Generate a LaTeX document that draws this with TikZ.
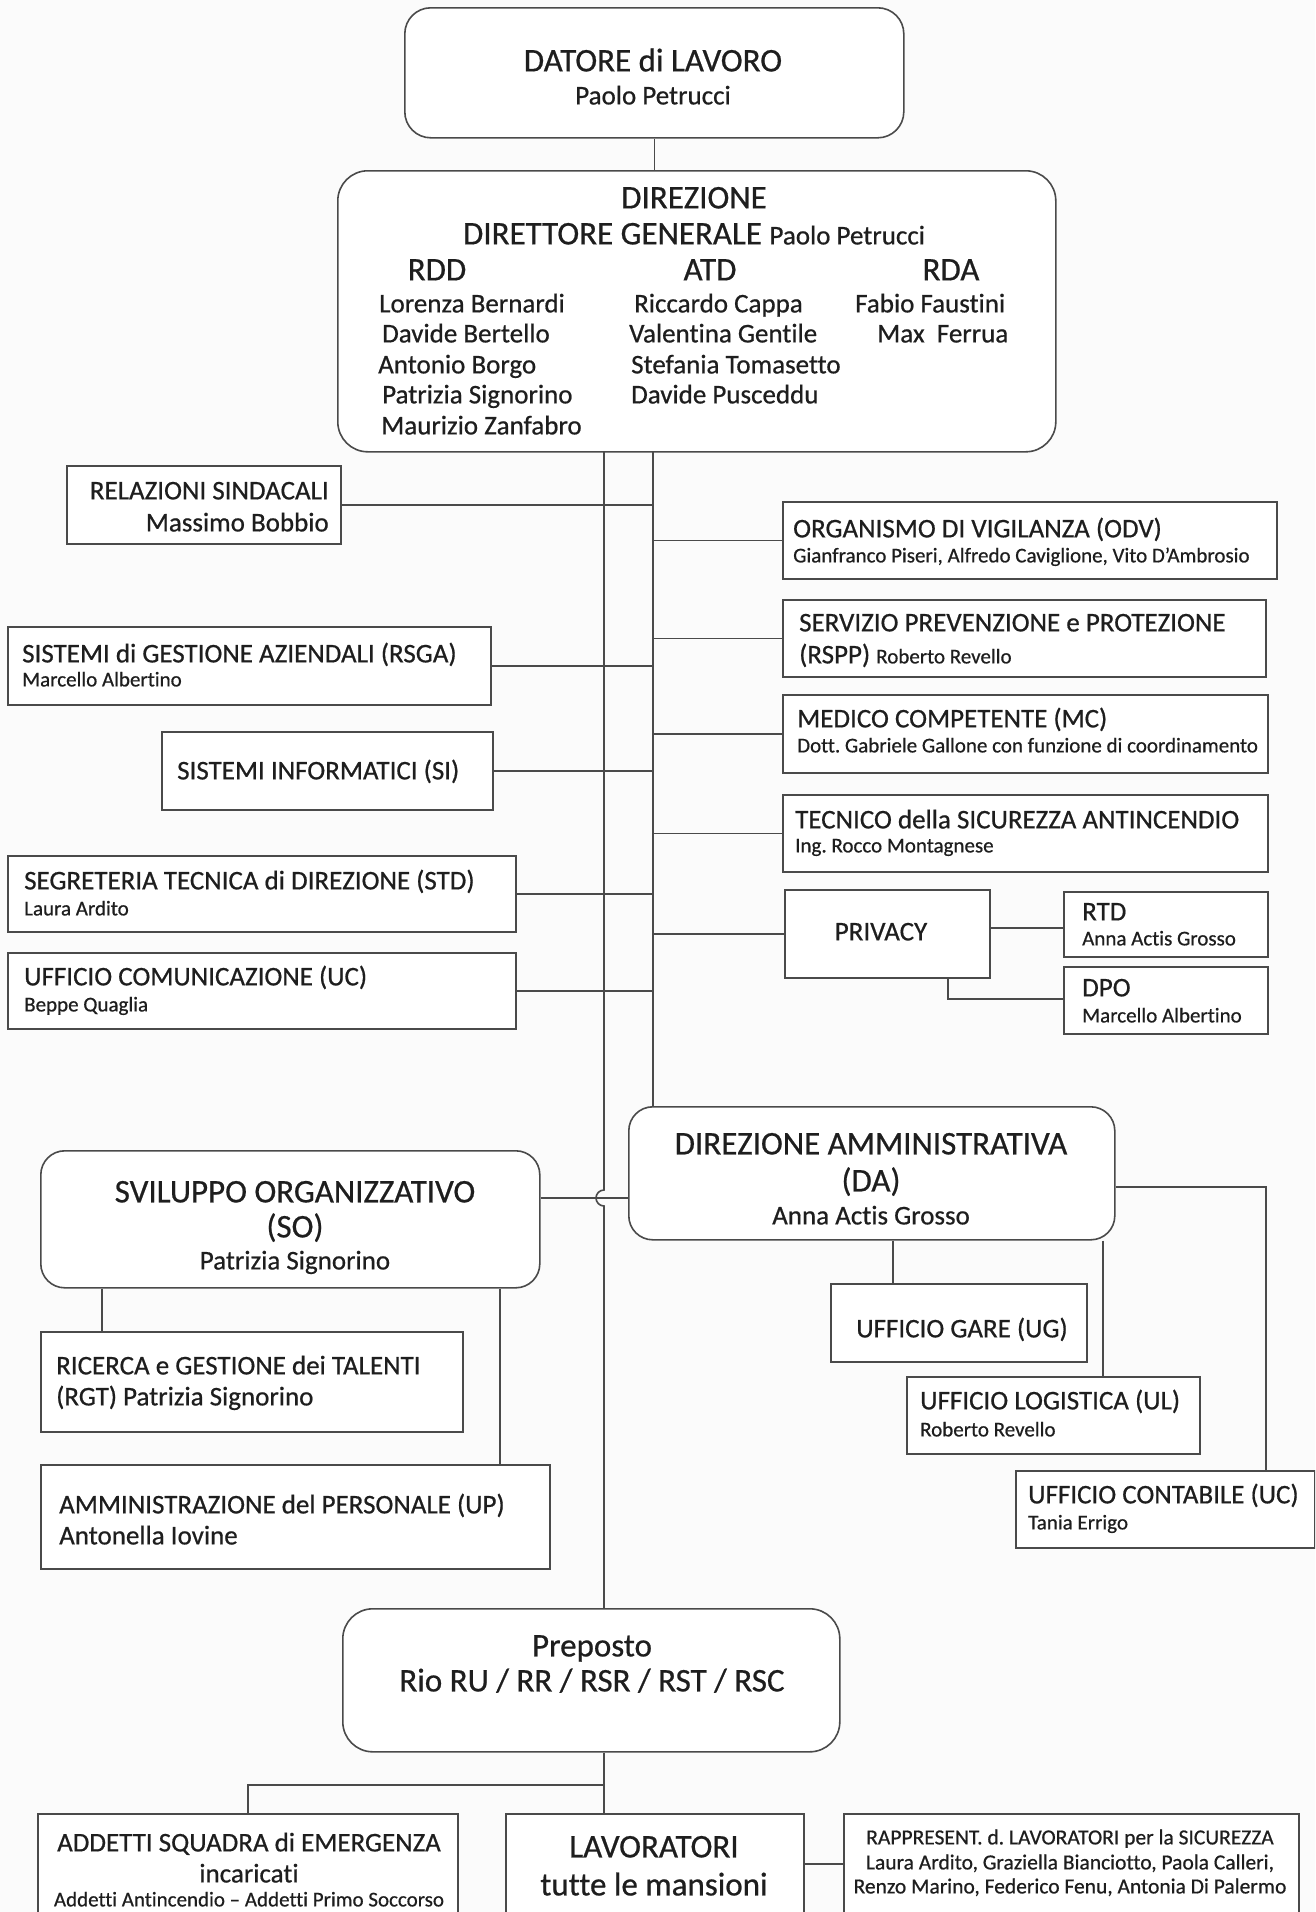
\documentclass[tikz,border=0pt]{standalone}
\usepackage{fontspec}
\setmainfont{Carlito}[Ligatures={NoCommon}, UprightFeatures={FakeBold=0.6}]
\definecolor{linec}{HTML}{4A4A4A}
\definecolor{txtc}{HTML}{1E1E1E}
\definecolor{bgc}{HTML}{FBFBFB}
\begin{document}
\frenchspacing
\begin{tikzpicture}[x=1pt,y=-1pt,
  box/.style={draw=linec, line width=1.6pt, inner sep=0pt, anchor=north west, fill=white},
  rbox/.style={box, rounded corners=26pt},
  ln/.style={draw=linec, line width=1.6pt},
  tx/.style={inner sep=0pt, text=txtc},
  B/.style={tx, font=\fontsize{33}{36}\selectfont, yshift=-8pt},
  M/.style={tx, font=\fontsize{27}{30}\selectfont, yshift=-7pt},
  S/.style={tx, font=\fontsize{21}{24}\selectfont, yshift=-5pt},
  lw/.style={anchor=mid west},
  le/.style={anchor=mid east},
  lc/.style={anchor=mid},
]
\useasboundingbox (0,0) rectangle (1315,1912);
\clip (0,0) rectangle (1315,1912);
\fill[bgc] (0,0) rectangle (1315,1912);

% ---------- boxes ----------
\node[rbox, minimum width=499pt, minimum height=130pt] (dat) at (404,7) {};
\node[rbox, rounded corners=30pt, minimum width=718pt, minimum height=281pt] (dir) at (337,170) {};
\node[box, minimum width=274pt, minimum height=78pt] (rel) at (66,465) {};
\node[box, minimum width=494pt, minimum height=77pt] (odv) at (782,501) {};
\node[box, minimum width=483pt, minimum height=77pt] (spp) at (782,599) {};
\node[box, minimum width=483pt, minimum height=78pt] (sga) at (7,626) {};
\node[box, minimum width=331pt, minimum height=78pt] (si) at (161,731) {};
\node[box, minimum width=485pt, minimum height=78pt] (mc) at (782,694) {};
\node[box, minimum width=485pt, minimum height=77pt] (tec) at (782,794) {};
\node[box, minimum width=508pt, minimum height=76pt] (std) at (7,855) {};
\node[box, minimum width=205pt, minimum height=88pt] (priv) at (784,889) {};
\node[box, minimum width=204pt, minimum height=65pt] (rtd) at (1063,891) {};
\node[box, minimum width=204pt, minimum height=67pt] (dpo) at (1063,966) {};
\node[box, minimum width=508pt, minimum height=76pt] (uc) at (7,952) {};
\node[rbox, rounded corners=24pt, minimum width=486pt, minimum height=133pt] (da) at (628,1106) {};
\node[rbox, rounded corners=24pt, minimum width=499pt, minimum height=137pt] (so) at (40,1150) {};
\node[box, minimum width=256pt, minimum height=78pt] (ug) at (830,1283) {};
\node[box, minimum width=293pt, minimum height=77pt] (ul) at (906,1376) {};
\node[box, minimum width=299pt, minimum height=77pt] (ucon) at (1015,1470) {};
\node[box, minimum width=422pt, minimum height=100pt] (rgt) at (40,1331) {};
\node[box, minimum width=509pt, minimum height=104pt] (up) at (40,1464) {};
\node[rbox, rounded corners=30pt, minimum width=497pt, minimum height=143pt] (prep) at (342,1608) {};
\node[box, minimum width=420pt, minimum height=130pt] (add) at (37,1813) {};
\node[box, minimum width=298pt, minimum height=130pt] (lav) at (505,1813) {};
\node[box, minimum width=455pt, minimum height=130pt] (rls) at (843,1813) {};

% ---------- trunk coordinates ----------
\coordinate (LT) at (604,451);
\coordinate (RT) at (653,451);
\coordinate (hopc) at (604,1198);
\coordinate (ugx) at (893,1283);
\coordinate (ulx) at (1103,1376);
\coordinate (ucx) at (1266,1187);
\coordinate (rgx) at (102,1331);
\coordinate (upx) at (500,1464);
\coordinate (pr1) at (989,928);
\coordinate (dpx) at (948,999);
\coordinate (br) at (604,1785);
\coordinate (lr) at (803,1864);

% ---------- connectors ----------
\draw[ln] (dat.south) -- (dat.south |- dir.north);
\draw[ln] (RT) -- (RT |- da.north);
\draw[ln] (LT) -- ([yshift=8pt]hopc) arc[start angle=90, end angle=270, radius=8pt] -- (LT |- prep.north);
\draw[ln] (so.east |- hopc) -- (da.west |- hopc);
\draw[ln] (rel.east) -- (rel.east -| RT);
\draw[ln] (sga.east) -- (sga.east -| RT);
\draw[ln] (si.east) -- (si.east -| RT);
\draw[ln] (std.east) -- (std.east -| RT);
\draw[ln] (uc.east) -- (uc.east -| RT);
\draw[ln] (odv.west -| RT) -- (odv.west);
\draw[ln] (spp.west -| RT) -- (spp.west);
\draw[ln] (mc.west -| RT) -- (mc.west);
\draw[ln] (tec.west -| RT) -- (tec.west);
\draw[ln] (priv.west -| RT) |- (priv.west);
\draw[ln] (pr1) -- (pr1 -| rtd.west);
\draw[ln] (dpx |- priv.south) -- (dpx) -- (dpx -| dpo.west);
\draw[ln] (ugx |- da.south) -- (ugx);
\draw[ln] (ulx |- da.south) -- (ulx);
\draw[ln] (ucx -| da.east) -- (ucx) -- (ucx |- ucon.north);
\draw[ln] (rgx |- so.south) -- (rgx);
\draw[ln] (upx |- so.south) -- (upx);
\draw[ln] (LT |- prep.south) -- (LT |- lav.north);
\draw[ln] (br) -- (br -| add.north) -- (add.north);
\draw[ln] (lr) -- (lr -| rls.west);

% ---------- texts ----------
\node[B, lc] (t1) at (653,61) {DATORE di LAVORO};
\node[M, lc] (t2) at (653,95) {Paolo Petrucci};
\node[B, lc] (t3) at (694,198) {DIREZIONE};
\node[B, lc] (t4) at (694,234) {DIRETTORE GENERALE {\fontsize{27}{30}\selectfont Paolo Petrucci}};
\node[B, lc] (t5) at (437,270) {RDD};
\node[B, lc] (t6) at (710,270) {ATD};
\node[B, lc] (t7) at (951,270) {RDA};
\node[M, lw] (t8) at (379,303) {Lorenza Bernardi};
\node[M, lw] (t9) at (382,333) {Davide Bertello};
\node[M, lw] (t10) at (378,364) {Antonio Borgo};
\node[M, lw] (t11) at (382,394) {Patrizia Signorino};
\node[M, lw] (t12) at (381,425) {Maurizio Zanfabro};
\node[M, lw] (t13) at (634,303) {Riccardo Cappa};
\node[M, lw] (t14) at (629,333) {Valentina Gentile};
\node[M, lw] (t15) at (631,364) {Stefania Tomasetto};
\node[M, lw] (t16) at (631,394) {Davide Pusceddu};
\node[M, lw] (t17) at (855,303) {Fabio Faustini};
\node[M, lw] (t18) at (877,333) {Max~ Ferrua};

\node[M, le] (t19) at (329,490) {RELAZIONI SINDACALI};
\node[M, le] (t20) at (329,522) {Massimo Bobbio};
\node[M, lw] (t21) at (793,528) {ORGANISMO DI VIGILANZA (ODV)};
\node[S, lw] (t22) at (793,555) {Gianfranco Piseri, Alfredo Caviglione, Vito D'Ambrosio};
\node[M, lw] (t23) at (799,622) {SERVIZIO PREVENZIONE e PROTEZIONE};
\node[M, lw] (t24) at (799,654) {(RSPP) {\fontsize{21}{24}\selectfont Roberto Revello}};
\node[M, lw] (t25) at (22,653) {SISTEMI di GESTIONE AZIENDALI (RSGA)};
\node[S, lw] (t26) at (22,679) {Marcello Albertino};
\node[M, lw] (t27) at (177,770) {SISTEMI INFORMATICI (SI)};
\node[M, lw] (t28) at (797,718) {MEDICO COMPETENTE (MC)};
\node[S, lw] (t29) at (797,745) {Dott. Gabriele Gallone con funzione di coordinamento};
\node[M, lw] (t30) at (795,819) {TECNICO della SICUREZZA ANTINCENDIO};
\node[S, lw] (t31) at (795,845) {Ing. Rocco Montagnese};
\node[M, lw] (t32) at (24,880) {SEGRETERIA TECNICA di DIREZIONE (STD)};
\node[S, lw] (t33) at (24,908) {Laura Ardito};
\node[M, lc] (t34) at (881,931) {PRIVACY};
\node[M, lw] (t35) at (1082,911) {RTD};
\node[S, lw] (t36) at (1082,938) {Anna Actis Grosso};
\node[M, lw] (t37) at (1082,987) {DPO};
\node[S, lw] (t38) at (1082,1015) {Marcello Albertino};
\node[M, lw] (t39) at (24,976) {UFFICIO COMUNICAZIONE (UC)};
\node[S, lw] (t40) at (24,1004) {Beppe Quaglia};

\node[B, lc] (t41) at (871,1144) {DIREZIONE AMMINISTRATIVA};
\node[B, lc] (t42) at (871,1181) {(DA)};
\node[M, lc] (t43) at (871,1215) {Anna Actis Grosso};
\node[B, lc] (t44) at (295,1192) {SVILUPPO ORGANIZZATIVO};
\node[B, lc] (t45) at (295,1227) {(SO)};
\node[M, lc] (t46) at (295,1260) {Patrizia Signorino};
\node[M, lc] (t47) at (962,1328) {UFFICIO GARE (UG)};
\node[M, lw] (t48) at (920,1400) {UFFICIO LOGISTICA (UL)};
\node[S, lw] (t49) at (920,1429) {Roberto Revello};
\node[M, lw] (t50) at (1028,1494) {UFFICIO CONTABILE (UC)};
\node[S, lw] (t51) at (1028,1522) {Tania Errigo};
\node[M, lw] (t52) at (56,1365) {RICERCA e GESTIONE dei TALENTI};
\node[M, lw] (t53) at (56,1396) {(RGT) Patrizia Signorino};
\node[M, lw] (t54) at (59,1504) {AMMINISTRAZIONE del PERSONALE (UP)};
\node[M, lw] (t55) at (59,1535) {Antonella Iovine};

\node[B, lc] (t56) at (592,1646) {Preposto};
\node[B, lc] (t57) at (592,1681) {Rio RU / RR / RSR / RST / RSC};
\node[M, lc] (t58) at (249,1842) {ADDETTI SQUADRA di EMERGENZA};
\node[M, lc] (t59) at (249,1873) {incaricati};
\node[S, lc] (t60) at (249,1899) {Addetti Antincendio – Addetti Primo Soccorso};
\node[B, lc] (t61) at (654,1847) {LAVORATORI};
\node[B, lc] (t62) at (654,1885) {tutte le mansioni};
\node[S, lc, font=\fontsize{21.5}{24}\selectfont] (t63) at (1070,1837) {RAPPRESENT. d. LAVORATORI per la SICUREZZA};
\node[S, lc, font=\fontsize{21.5}{24}\selectfont] (t64) at (1070,1862) {Laura Ardito, Graziella Bianciotto, Paola Calleri,};
\node[S, lc, font=\fontsize{21.5}{24}\selectfont] (t65) at (1070,1886) {Renzo Marino, Federico Fenu, Antonia Di Palermo};
\end{tikzpicture}
\end{document}
